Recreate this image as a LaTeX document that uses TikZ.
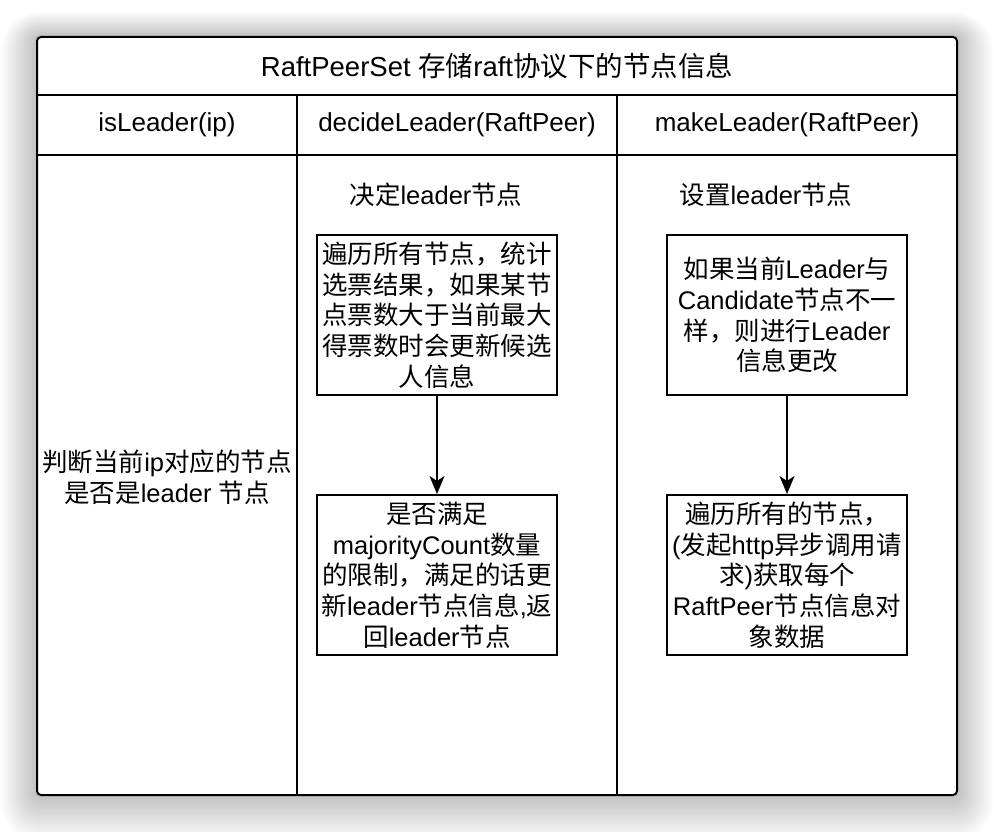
\documentclass[tikz,border=0pt]{standalone}
\usepackage{fontspec}
\setmainfont{Liberation Sans}
\newfontfamily\cjkf{Noto Sans CJK SC}
\newcommand\zh[1]{{\cjkf #1}}
\usetikzlibrary{arrows.meta}
\tikzset{
  boxnode/.style={draw=black, line width=2pt, minimum width=240, minimum height=160, inner sep=0pt, align=center, font=\fontsize{25.5}{30.7}\selectfont},
  txtnode/.style={inner sep=0pt, align=center, font=\fontsize{25.5}{30.7}\selectfont},
  headnode/.style={inner sep=0pt, align=center, font=\fontsize{26}{31}\selectfont},
  titlenode/.style={inner sep=0pt, align=center, font=\fontsize{27.5}{32}\selectfont},
  gridline/.style={line width=2pt, draw=black},
  arr/.style={line width=2pt, draw=black, -{Stealth[length=18pt,width=15pt,inset=5pt]}}
}
\begin{document}
\begin{tikzpicture}[x=1pt,y=-1pt]
\useasboundingbox (0,0) rectangle (994,832);
\fill[white] (0,0) rectangle (994,832);
% window shadow
\foreach \i in {1,...,20}{
  \pgfmathsetmacro\s{1.8*\i}
  \pgfmathsetmacro\o{0.55*\i}
  \pgfmathsetmacro\r{3+\s}
  \fill[black, opacity=0.013, rounded corners=\r pt] (37-\s,37-\s+\o) rectangle (957+\s,795+\s+\o);
}
% frame
\draw[gridline, fill=white, rounded corners=4pt] (37,37) rectangle (957,795);
\draw[gridline] (37,95) -- (957,95);
\draw[gridline] (37,155) -- (957,155);
\draw[gridline] (297,95) -- (297,795);
\draw[gridline] (617,95) -- (617,795);
% title and headers
\node[titlenode] (title) at (497,66) {RaftPeerSet \zh{存储}raft\zh{协议下的节点信息}};
\node[headnode] (h1) at (167,125) {isLeader(ip)};
\node[headnode] (h2) at (457,125) {decideLeader(RaftPeer)};
\node[headnode] (h3) at (787,125) {makeLeader(RaftPeer)};
% left column
\node[txtnode] (left) at (167,477) {\zh{判断当前}ip\zh{对应的节点}\\\zh{是否是}leader \zh{节点}};
% middle column
\node[txtnode] (l2) at (436,195) {\zh{决定}leader\zh{节点}};
\node[boxnode] (b1) at (437,315) {\zh{遍历所有节点，统计}\\\zh{选票结果，如果某节}\\\zh{点票数大于当前最大}\\\zh{得票数时会更新候选}\\\zh{人信息}};
\node[boxnode] (b2) at (437,575) {\zh{是否满足}\\majorityCount\zh{数量}\\\zh{的限制，满足的话更}\\\zh{新}leader\zh{节点信息},\zh{返}\\\zh{回}leader\zh{节点}};
\draw[arr] (b1.south) -- (b2.north);
% right column
\node[txtnode] (l3) at (766,195) {\zh{设置}leader\zh{节点}};
\node[boxnode] (c1) at (787,315) {\zh{如果当前}Leader\zh{与}\\Candidate\zh{节点不一}\\\zh{样，则进行}Leader\\\zh{信息更改}};
\node[boxnode] (c2) at (787,575) {\zh{遍历所有的节点，}\\(\zh{发起}http\zh{异步调用请}\\\zh{求})\zh{获取每个}\\RaftPeer\zh{节点信息对}\\\zh{象数据}};
\draw[arr] (c1.south) -- (c2.north);
\end{tikzpicture}
\end{document}
